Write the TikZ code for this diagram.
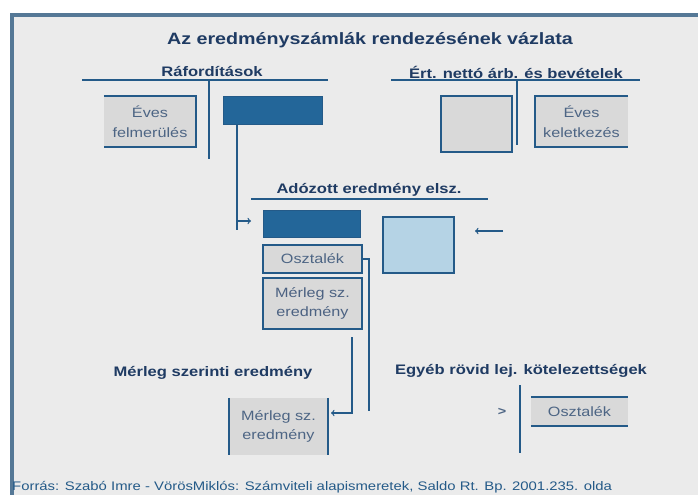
\documentclass[tikz,border=0pt]{standalone}
\usepackage{fontspec}
\newfontfamily\diafont[FakeStretch=1.2]{Liberation Sans}

\definecolor{framecol}{HTML}{557896}
\definecolor{panelcol}{HTML}{EBEBEB}
\definecolor{lineblue}{HTML}{245A88}
\definecolor{darkfill}{HTML}{236699}
\definecolor{grayfill}{HTML}{D9D9D9}
\definecolor{lightfill}{HTML}{B5D3E5}
\definecolor{labelblue}{HTML}{1F3B63}
\definecolor{softblue}{HTML}{4D6584}

\tikzset{
  lbl/.style={font=\diafont\fontsize{13.8}{16}\selectfont\bfseries, text=labelblue, inner sep=0pt},
  boxtxt/.style={font=\diafont\fontsize{13.5}{19.5}\selectfont, text=softblue, align=center, inner sep=0pt},
  tline/.style={draw=lineblue, line width=1.6pt},
  conn/.style={draw=lineblue, line width=1.3pt},
  darkbox/.style={fill=darkfill, draw=lineblue, line width=1pt, inner sep=0pt},
  graybox/.style={fill=grayfill, inner sep=0pt},
  lightbox/.style={fill=lightfill, draw=lineblue, line width=1.6pt, inner sep=0pt}
}

\begin{document}
\begin{tikzpicture}[x=1pt,y=-1pt]
  \useasboundingbox (0,0) rectangle (698,495);
  \fill[white] (0,0) rectangle (698,495);

  % Panel with frame
  \fill[framecol] (10,13) rectangle (698,495);
  \fill[panelcol] (14,17) rectangle (698,495);

  % Title
  \node[lbl, font=\diafont\fontsize{16.4}{19}\selectfont\bfseries] (title) at (370,40) {Az eredményszámlák rendezésének vázlata};

  % Raforditasok T-account
  \node[lbl] (raf) at (212,72) {Ráfordítások};
  \draw[tline] (82,80) -- (328,80);
  \draw[tline] (209,80) -- (209,159);
  \node[graybox, minimum width=92, minimum height=51] (evesraf) at (150,121.5) {};
  \node[boxtxt] at (evesraf) {Éves\\felmerülés};
  \draw[tline] (evesraf.north west) -- (evesraf.north east) -- (evesraf.south east) -- (evesraf.south west);
  \node[darkbox, minimum width=99, minimum height=28] (rafdark) at (272.5,110) {};

  % Ert. netto arb. T-account
  \node[lbl] (ert) at (516,72) {Ért. nettó árb. és bevételek};
  \draw[tline] (391,80) -- (640,80);
  \draw[tline] (517,80) -- (517,145);
  \node[graybox, draw=lineblue, line width=1.6pt, minimum width=71, minimum height=56] (ertgray) at (476.5,124) {};
  \node[graybox, minimum width=93, minimum height=51] (eveskel) at (581.5,121.5) {};
  \node[boxtxt] at (eveskel) {Éves\\keletkezés};
  \draw[tline] (eveskel.north east) -- (eveskel.north west) -- (eveskel.south west) -- (eveskel.south east);

  % Adozott eredmeny elszamolasa
  \node[lbl] (ado) at (369,190) {Adózott eredmény elsz.};
  \draw[tline] (251,199) -- (488,199);
  \node[darkbox, minimum width=97, minimum height=27] (adodark) at (311.5,223.5) {};
  \node[lightbox, minimum width=71, minimum height=56] (adolight) at (418.5,245) {};
  \node[graybox, draw=lineblue, line width=1.6pt, boxtxt, minimum width=99, minimum height=28] (oszt) at (312.5,259) {Osztalék};
  \node[graybox, draw=lineblue, line width=1.6pt, boxtxt, text=labelblue!80, minimum width=99, minimum height=51] (mermid) at (312.5,303.5) {Mérleg sz.\\eredmény};

  % Connectors
  \coordinate (a1) at (237,230);
  \coordinate (a1s) at (237,221);
  \draw[conn] (rafdark.south -| a1) -- (a1);
  \draw[conn, ->] (a1s) -- ++(14,0);
  \coordinate (a2) at (503,231);
  \draw[conn, ->] (a2) -- ++(-28,0);
  \coordinate (b1) at (369,411);
  \draw[conn] (oszt.east) -| (b1);

  % Merleg szerinti eredmeny
  \node[lbl] (msz) at (213,373) {Mérleg szerinti eredmény};
  \node[graybox, boxtxt, minimum width=99, minimum height=57] (merb) at (278.5,426.5) {Mérleg sz.\\eredmény};
  \draw[tline] (merb.north west) -- (merb.south west);
  \draw[tline] (merb.north east) -- (merb.south east);
  \coordinate (m1) at (352,337);
  \coordinate (m2) at (331,413);
  \draw[conn, ->] (m1) |- (m2);

  % Egyeb rovid lejaratu kotelezettsegek
  \node[lbl] (egy) at (521,371) {Egyéb rövid lej. kötelezettségek};
  \draw[tline] (520,385) -- (520,453);
  \node[boxtxt, font=\diafont\fontsize{12}{14}\selectfont\bfseries] (gt) at (502,412) {>};
  \node[graybox, boxtxt, minimum width=97, minimum height=29] (osz2) at (579.5,411.5) {Osztalék};
  \draw[tline] (osz2.north west) -- (osz2.north east);
  \draw[tline] (osz2.south west) -- (osz2.south east);

  % Source
  \node[anchor=west, inner sep=0pt, text=lineblue, font=\diafont\fontsize{12.4}{14}\selectfont] (src) at (12,487) {Forrás: Szabó Imre - VörösMiklós: Számviteli alapismeretek, Saldo Rt. Bp. 2001.235. olda};
\end{tikzpicture}
\end{document}
